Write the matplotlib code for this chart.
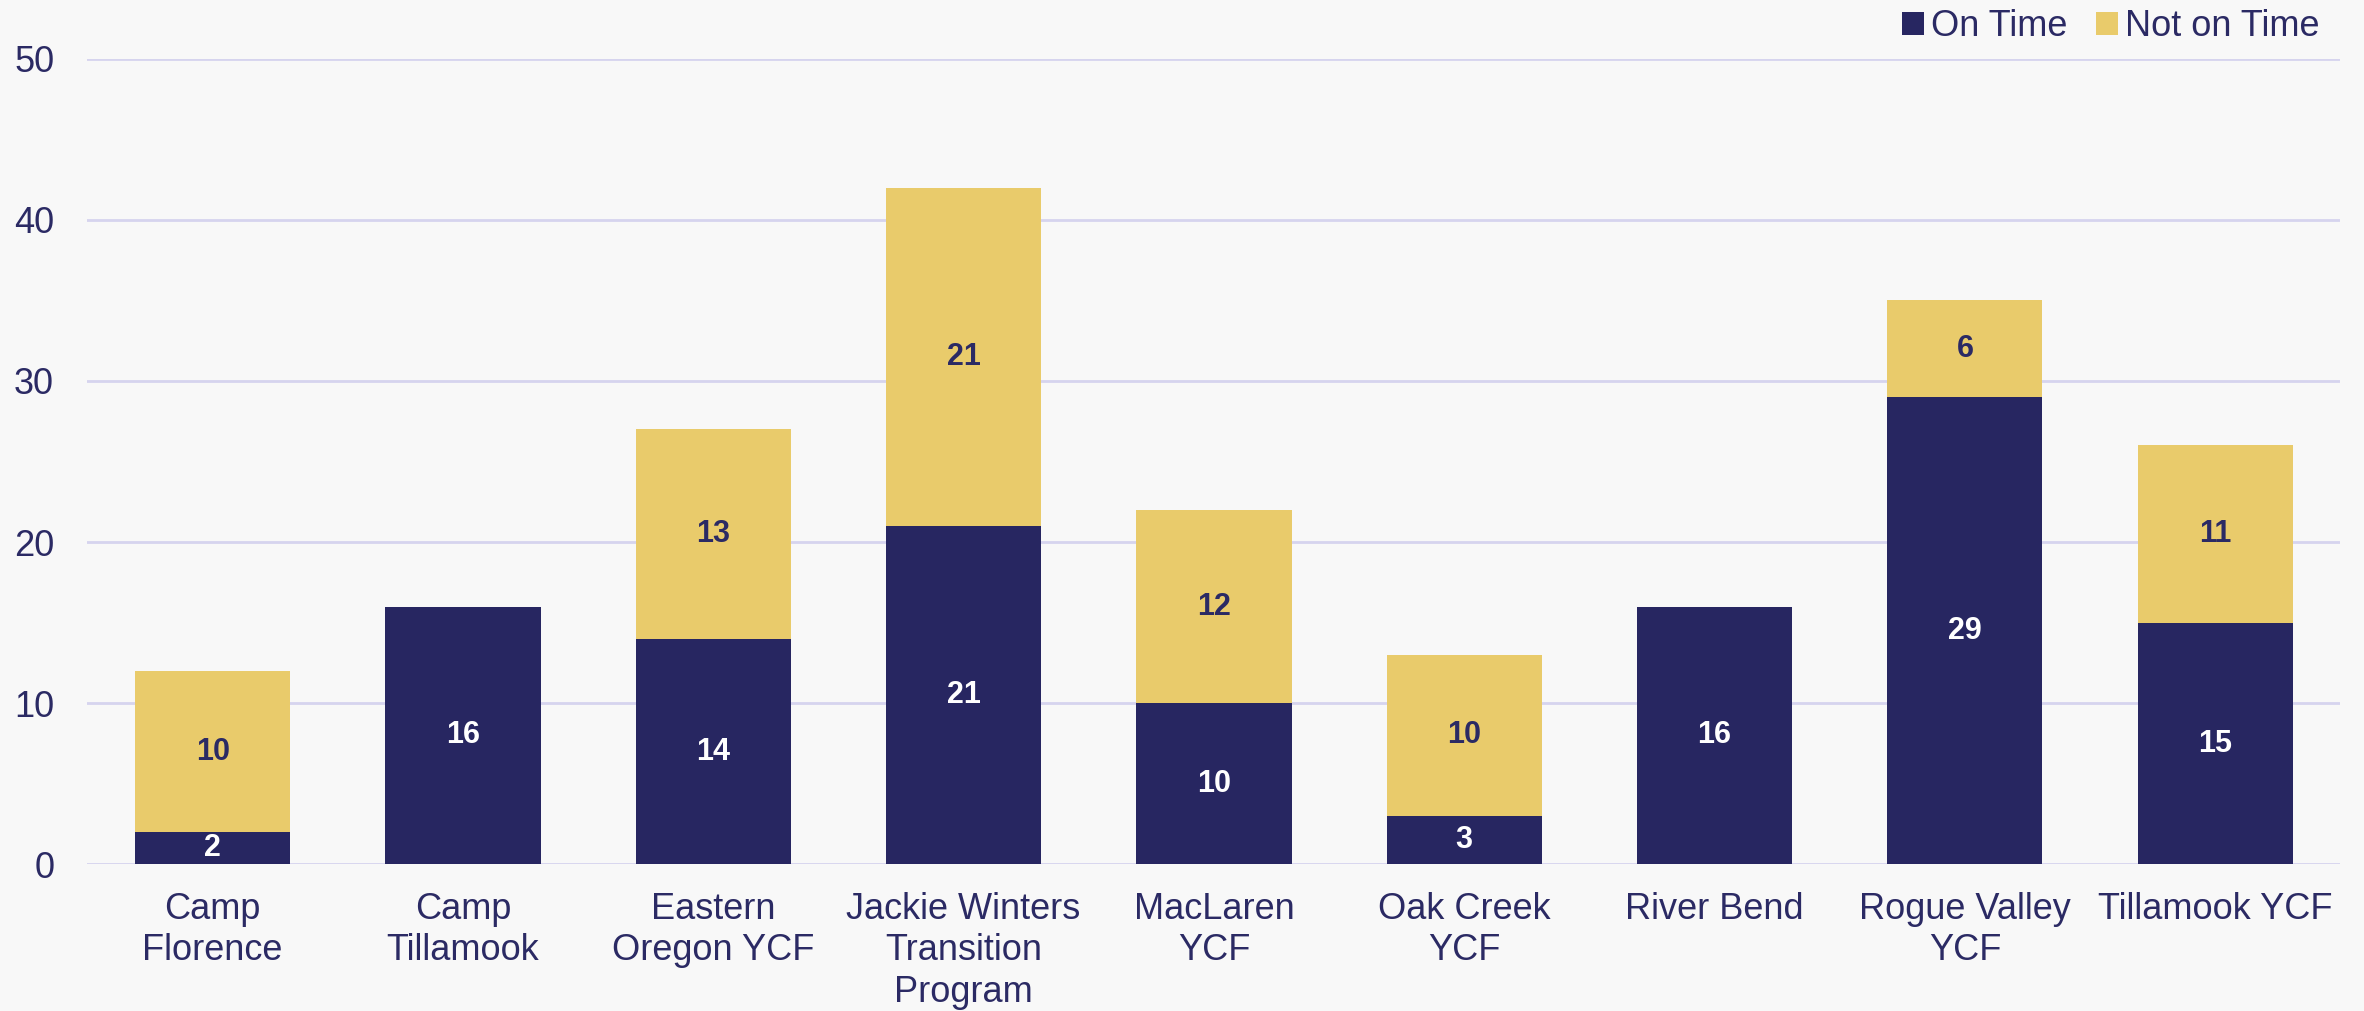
import numpy as np
import matplotlib.pyplot as plt

plt.rcParams['font.family'] = ['Liberation Sans', 'DejaVu Sans']

categories = ['Camp\nFlorence', 'Camp\nTillamook', 'Eastern\nOregon YCF',
              'Jackie Winters\nTransition\nProgram', 'MacLaren\nYCF', 'Oak Creek\nYCF',
              'River Bend', 'Rogue Valley\nYCF', 'Tillamook YCF']
on_time = [2, 16, 14, 21, 10, 3, 16, 29, 15]
not_on_time = [10, 0, 13, 21, 12, 10, 0, 6, 11]

navy = '#272661'
gold = '#E9CB6B'
bg = '#F8F8F8'
txt = '#2B2A64'

fig = plt.figure(figsize=(23.64, 10.11), dpi=100, facecolor=bg)
ax = fig.add_axes([0.037, 0.145, 0.953, 0.797], facecolor=bg)

x = np.arange(len(categories))
w = 0.62
ax.bar(x, on_time, w, color=navy, label='On Time', zorder=3)
ax.bar(x, not_on_time, w, bottom=on_time, color=gold, label='Not on Time', zorder=3)

for i in range(len(x)):
    if on_time[i] > 0:
        ax.text(x[i], on_time[i] / 2, str(on_time[i]), ha='center', va='center',
                color='white', fontsize=22, fontweight='bold', zorder=4)
    if not_on_time[i] > 0:
        ax.text(x[i], on_time[i] + not_on_time[i] / 2, str(not_on_time[i]),
                ha='center', va='center', color=txt, fontsize=22, fontweight='bold', zorder=4)

ax.set_xlim(-0.5, len(x) - 0.5)
ax.set_ylim(0, 50)
ax.set_yticks([0, 10, 20, 30, 40, 50])
ax.set_xticks(x)
ax.set_xticklabels(categories, fontsize=26, color=txt, linespacing=1.23)
ax.tick_params(axis='y', labelsize=26, colors=txt, length=0, pad=24)
ax.tick_params(axis='x', length=0, pad=20, colors=txt)
ax.grid(axis='y', color='#D6D4EE', linewidth=2, zorder=0)
for s in ax.spines.values():
    s.set_visible(False)

fig.legend(loc='upper right', bbox_to_anchor=(0.995, 1.023), ncol=2, frameon=False,
           fontsize=26, handlelength=0.6, handleheight=0.6, handletextpad=0.2,
           columnspacing=0.8, labelcolor=txt)

fig.savefig('out.png', dpi=100, facecolor=bg)
